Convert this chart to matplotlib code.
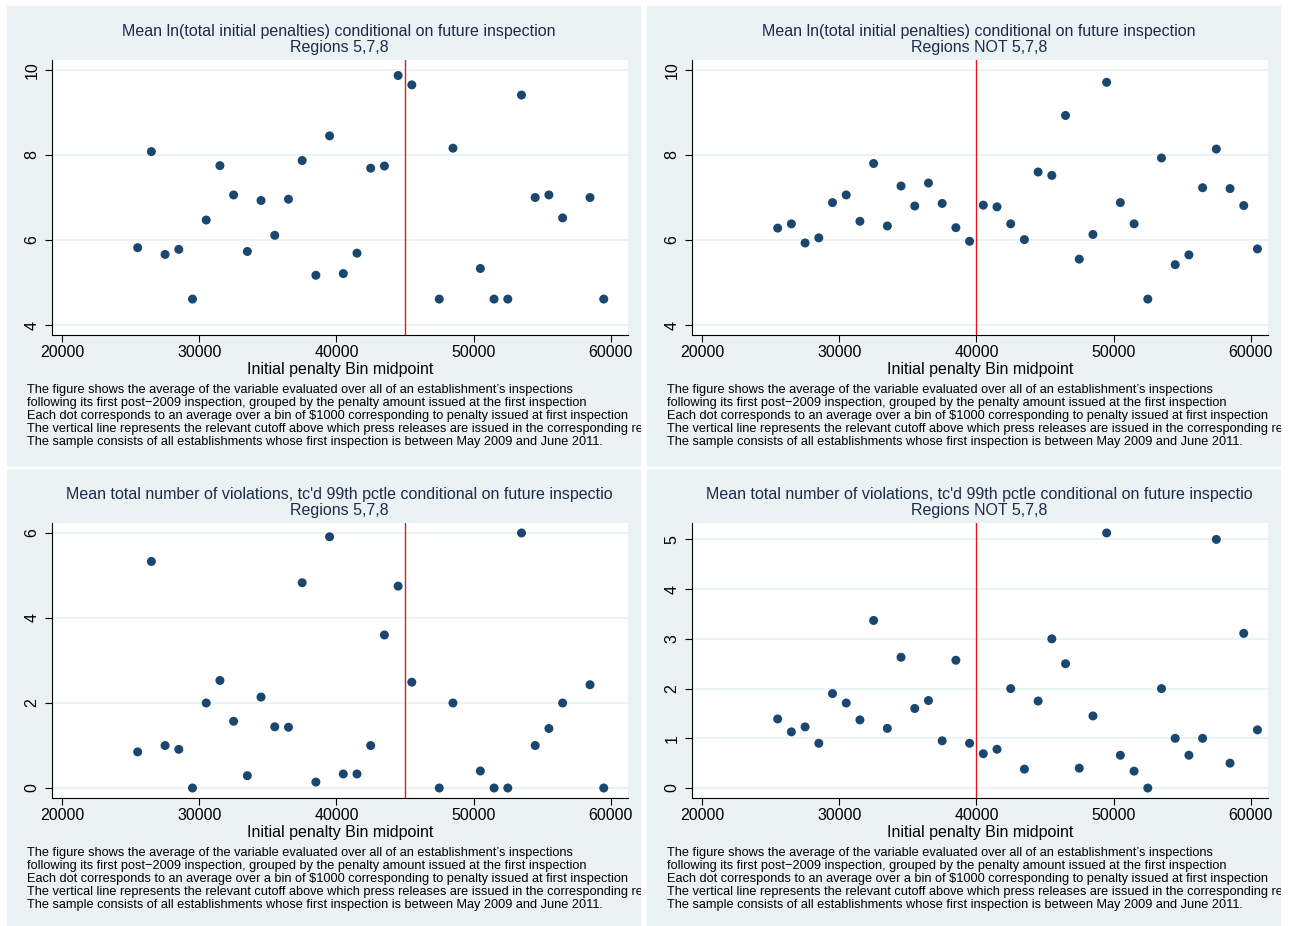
#!/usr/bin/env python3
# Binned means of post-2009 outcomes by initial penalty, four Stata-style panels

import matplotlib
matplotlib.use("Agg")
import matplotlib.pyplot as plt
from matplotlib.patches import Rectangle
from matplotlib.transforms import Bbox, TransformedBbox

W, H = 1289, 926
BG = "#eaf2f3"
NAVY = "#1a476f"

plt.rcParams["font.family"] = ["Liberation Sans", "DejaVu Sans"]

# bin midpoints
bins_578 = [25500, 26500, 27500, 28500, 29500, 30500, 31500, 32500, 33500, 34500,
            35500, 36500, 37500, 38500, 39500, 40500, 41500, 42500, 43500, 44500,
            45500, 47500, 48500, 50500, 51500, 52500, 53500, 54500, 55500, 56500,
            58500, 59500]
bins_not578 = [25500, 26500, 27500, 28500, 29500, 30500, 31500, 32500, 33500, 34500,
               35500, 36500, 37500, 38500, 39500, 40500, 41500, 42500, 43500, 44500,
               45500, 46500, 47500, 48500, 49500, 50500, 51500, 52500, 53500, 54500,
               55500, 56500, 57500, 58500, 59500, 60500]

# mean ln(total initial penalties)
lnpen_578 = [5.82, 8.08, 5.66, 5.78, 4.61, 6.47, 7.75, 7.06, 5.73, 6.93,
             6.11, 6.96, 7.87, 5.17, 8.45, 5.21, 5.69, 7.69, 7.74, 9.87,
             9.65, 4.61, 8.16, 5.33, 4.61, 4.61, 9.41, 7.00, 7.06, 6.52,
             7.00, 4.61]
lnpen_not578 = [6.28, 6.38, 5.93, 6.05, 6.88, 7.06, 6.44, 7.80, 6.33, 7.27,
                6.80, 7.34, 6.86, 6.29, 5.97, 6.82, 6.78, 6.38, 6.01, 7.60,
                7.52, 8.93, 5.55, 6.13, 9.71, 6.88, 6.38, 4.61, 7.93, 5.42,
                5.65, 7.23, 8.14, 7.21, 6.81, 5.79]

# mean total number of violations (top-coded at 99th pctle)
viol_578 = [0.85, 5.33, 1.00, 0.91, 0.00, 2.00, 2.53, 1.57, 0.29, 2.14,
            1.44, 1.43, 4.83, 0.14, 5.91, 0.33, 0.33, 1.00, 3.60, 4.75,
            2.49, 0.00, 2.00, 0.40, 0.00, 0.00, 6.00, 1.00, 1.40, 2.00,
            2.43, 0.00]
viol_not578 = [1.39, 1.13, 1.23, 0.90, 1.90, 1.71, 1.37, 3.37, 1.20, 2.63,
               1.60, 1.76, 0.95, 2.57, 0.90, 0.69, 0.78, 2.00, 0.38, 1.75,
               3.00, 2.50, 0.40, 1.45, 5.13, 0.66, 0.34, 0.00, 2.00, 1.00,
               0.66, 1.00, 5.00, 0.50, 3.11, 1.17]

cutoff_578 = 45000
cutoff_not578 = 40000

title_pen = "Mean ln(total initial penalties) conditional on future inspection"
title_viol = "Mean total number of violations, tc'd 99th pctle conditional on future inspectio"
sub_578 = "Regions 5,7,8"
sub_not578 = "Regions NOT 5,7,8"
xlabel = "Initial penalty Bin midpoint"
xticks = [20000, 30000, 40000, 50000, 60000]

notes = [
    "The figure shows the average of the variable evaluated over all of an establishment\u2019s inspections",
    "following its first post\u22122009 inspection, grouped by the penalty amount issued at the first inspection",
    "Each dot corresponds to an average over a bin of $1000 corresponding to penalty issued at first inspection",
    "The vertical line represents the relevant cutoff above which press releases are issued in the corresponding region.",
    "The sample consists of all establishments whose first inspection is between May 2009 and June 2011.",
]


def fx(x):
    return x / W


def fy(y):
    return 1 - y / H


fig = plt.figure(figsize=(W / 100, H / 100), dpi=100)


def panel(px0, py0, title, sub, x, y, cutoff, yticks, ylim):
    # graph region background
    pw, ph = 634, 461 if py0 < 100 else 457
    rect = Rectangle((fx(px0), fy(py0 + ph)), pw / W, ph / H, transform=fig.transFigure,
                     facecolor=BG, edgecolor="none", zorder=-1)
    fig.patches.append(rect)
    # notes run past the right edge of the graph region and get cut there
    clip = TransformedBbox(Bbox.from_extents(fx(px0), fy(py0 + ph), fx(px0 + pw), fy(py0)),
                           fig.transFigure)

    # plot region
    ax_l, ax_t = px0 + 45, py0 + 54
    ax = fig.add_axes([fx(ax_l), fy(ax_t + 275), 576 / W, 275 / H])
    ax.set_facecolor("white")
    ax.scatter(x, y, s=42, color=NAVY, edgecolors="none", zorder=3)
    ax.axvline(cutoff, color="#e8161b", lw=1.0, zorder=2)
    ax.set_xlim(19250, 61270)
    ax.set_ylim(*ylim)
    ax.set_xticks(xticks)
    ax.set_yticks(yticks)
    ax.grid(axis="y", color=BG, lw=1.3)
    ax.set_axisbelow(True)
    for s in ("top", "right"):
        ax.spines[s].set_visible(False)
    for s in ("left", "bottom"):
        ax.spines[s].set_linewidth(0.8)
    ax.tick_params(length=5, width=0.8, labelsize=11.5, colors="black")
    ax.tick_params(axis="x", pad=2)
    ax.tick_params(axis="y", pad=4, labelrotation=90)
    for lab in ax.get_yticklabels():
        lab.set_va("center")
    ax.set_xlabel(xlabel, fontsize=11.5, labelpad=1.5)

    cx = fx(px0 + 332)
    fig.text(cx, fy(py0 + 25.5), title, ha="center", va="center", fontsize=11.5, color="#1e2b4a")
    fig.text(cx, fy(py0 + 41.5), sub, ha="center", va="center", fontsize=11.5, color="#1e2b4a")

    for i, line in enumerate(notes):
        t = fig.text(fx(px0 + 20), fy(py0 + 384 + 13 * i), line, ha="left", va="center",
                     fontsize=9.2, color="black")
        t.set_clip_box(clip)
        t.set_clip_on(True)


panel(7, 6, title_pen, sub_578, bins_578, lnpen_578, cutoff_578, [4, 6, 8, 10], (3.765, 10.235))
panel(647, 6, title_pen, sub_not578, bins_not578, lnpen_not578, cutoff_not578, [4, 6, 8, 10], (3.765, 10.235))
panel(7, 469, title_viol, sub_578, bins_578, viol_578, cutoff_578, [0, 2, 4, 6], (-0.235, 6.235))
panel(647, 469, title_viol, sub_not578, bins_not578, viol_not578, cutoff_not578, [0, 1, 2, 3, 4, 5], (-0.2, 5.33))

fig.savefig("out.png", dpi=100, facecolor="white")
